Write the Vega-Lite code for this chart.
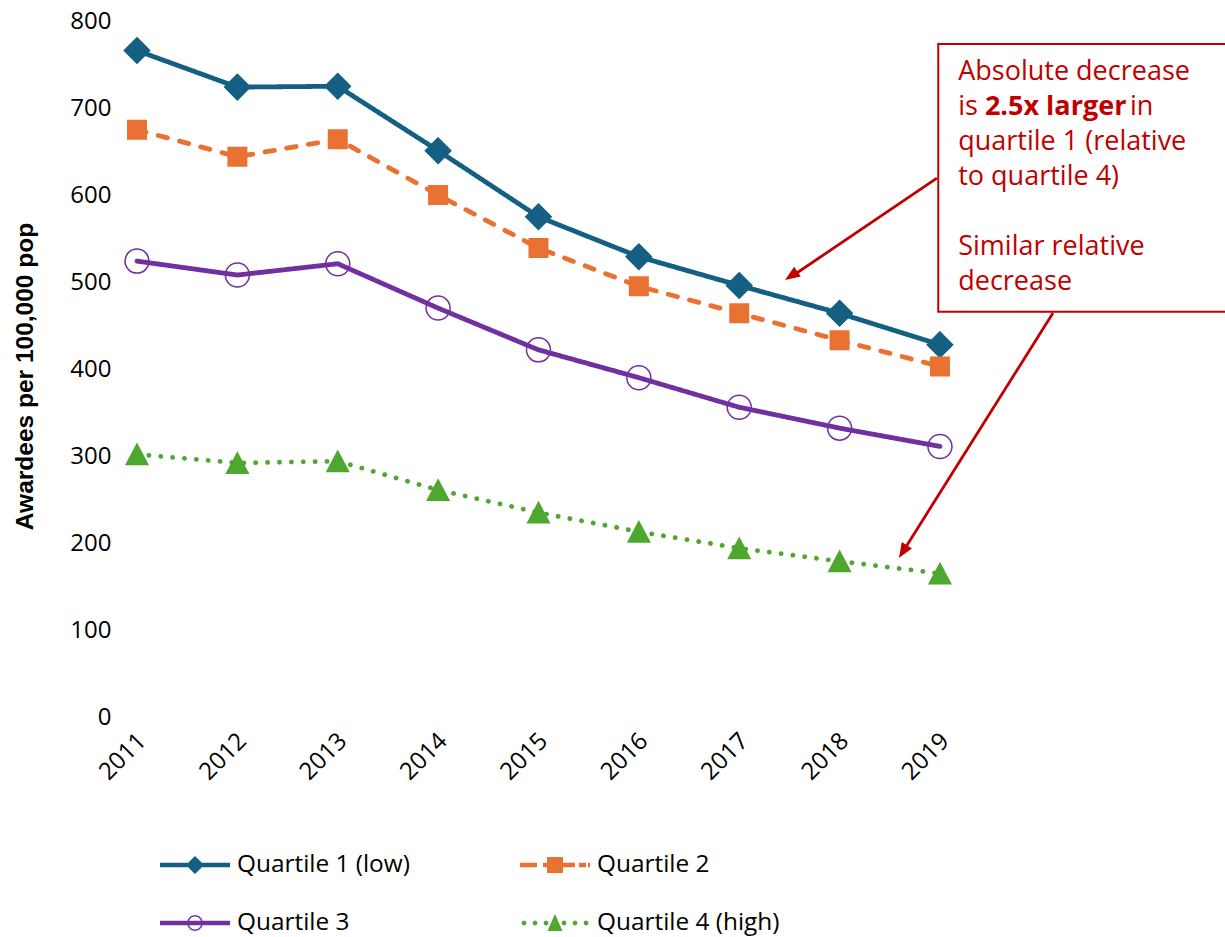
{
  "$schema": "https://vega.github.io/schema/vega-lite/v6.json",
  "width": 1088,
  "height": 696,
  "autosize": {"type": "none"},
  "padding": {"left": 137, "top": 21, "right": 0, "bottom": 220},
  "background": "white",
  "config": {"view": {"stroke": null}, "font": "Open Sans"},
  "datasets": {
    "series": [
      {"year": 2011, "series": "Quartile 1 (low)", "value": 766},
      {"year": 2012, "series": "Quartile 1 (low)", "value": 724},
      {"year": 2013, "series": "Quartile 1 (low)", "value": 725},
      {"year": 2014, "series": "Quartile 1 (low)", "value": 651},
      {"year": 2015, "series": "Quartile 1 (low)", "value": 575},
      {"year": 2016, "series": "Quartile 1 (low)", "value": 529},
      {"year": 2017, "series": "Quartile 1 (low)", "value": 496},
      {"year": 2018, "series": "Quartile 1 (low)", "value": 464},
      {"year": 2019, "series": "Quartile 1 (low)", "value": 428},
      {"year": 2011, "series": "Quartile 2", "value": 675},
      {"year": 2012, "series": "Quartile 2", "value": 644},
      {"year": 2013, "series": "Quartile 2", "value": 664},
      {"year": 2014, "series": "Quartile 2", "value": 600},
      {"year": 2015, "series": "Quartile 2", "value": 539},
      {"year": 2016, "series": "Quartile 2", "value": 495},
      {"year": 2017, "series": "Quartile 2", "value": 464},
      {"year": 2018, "series": "Quartile 2", "value": 433},
      {"year": 2019, "series": "Quartile 2", "value": 403},
      {"year": 2011, "series": "Quartile 3", "value": 524},
      {"year": 2012, "series": "Quartile 3", "value": 508},
      {"year": 2013, "series": "Quartile 3", "value": 521},
      {"year": 2014, "series": "Quartile 3", "value": 470},
      {"year": 2015, "series": "Quartile 3", "value": 422},
      {"year": 2016, "series": "Quartile 3", "value": 390},
      {"year": 2017, "series": "Quartile 3", "value": 356},
      {"year": 2018, "series": "Quartile 3", "value": 332},
      {"year": 2019, "series": "Quartile 3", "value": 311},
      {"year": 2011, "series": "Quartile 4 (high)", "value": 302},
      {"year": 2012, "series": "Quartile 4 (high)", "value": 292},
      {"year": 2013, "series": "Quartile 4 (high)", "value": 294},
      {"year": 2014, "series": "Quartile 4 (high)", "value": 261},
      {"year": 2015, "series": "Quartile 4 (high)", "value": 235},
      {"year": 2016, "series": "Quartile 4 (high)", "value": 213},
      {"year": 2017, "series": "Quartile 4 (high)", "value": 194},
      {"year": 2018, "series": "Quartile 4 (high)", "value": 179},
      {"year": 2019, "series": "Quartile 4 (high)", "value": 165}
    ],
    "grid": [
      {"value": 0}, {"value": 100}, {"value": 200}, {"value": 300}, {"value": 400},
      {"value": 500}, {"value": 600}, {"value": 700}, {"value": 800}
    ],
    "box": [
      {"year": 2018.983, "year2": 2022.2, "value": 773.6, "value2": 465.9}
    ],
    "notes": [
      {"year": 2019.182, "value": 732.2, "text": "Absolute decrease"},
      {"year": 2019.182, "value": 692.5, "text": "is"},
      {"year": 2020.893, "value": 692.5, "text": "in"},
      {"year": 2019.182, "value": 651.7, "text": "quartile 1 (relative"},
      {"year": 2019.182, "value": 611.5, "text": "to quartile 4)"},
      {"year": 2019.182, "value": 531.0, "text": "Similar relative"},
      {"year": 2019.182, "value": 490.8, "text": "decrease"}
    ],
    "bold": [
      {"year": 2019.448, "value": 692.5, "text": "2.5x larger"}
    ],
    "arrows": [
      {"year": 2018.97, "value": 619.5, "year2": 2017.522, "value2": 506.3},
      {"year": 2020.126, "value": 464.4, "year2": 2018.634, "value2": 190.6}
    ],
    "head1": [{"year": 2017.456, "value": 502.3}],
    "head2": [{"year": 2018.591, "value": 182.8}]
  },
  "encoding": {
    "x": {
      "field": "year",
      "type": "quantitative",
      "scale": {"domain": [2011, 2021.84], "nice": false, "zero": false},
      "axis": {
        "values": [2011, 2012, 2013, 2014, 2015, 2016, 2017, 2018, 2019],
        "format": "d",
        "labelAngle": -45,
        "labelAlign": "right",
        "labelBaseline": "middle",
        "labelFont": "Open Sans",
        "labelFontSize": 24,
        "labelColor": "black",
        "labelPadding": 20,
        "labelOffset": 5,
        "labelFlush": false,
        "labelOverlap": false,
        "domain": false,
        "ticks": false,
        "grid": false,
        "title": null
      }
    },
    "y": {
      "field": "value",
      "type": "quantitative",
      "scale": {"domain": [0, 800], "nice": false},
      "axis": {
        "values": [0, 100, 200, 300, 400, 500, 600, 700, 800],
        "labelFont": "Open Sans",
        "labelFontSize": 24,
        "labelColor": "black",
        "labelPadding": 26,
        "domain": false,
        "ticks": false,
        "grid": false,
        "title": "Awardees per 100,000 pop",
        "titleFont": "Liberation Sans",
        "titleFontSize": 24.5,
        "titleFontWeight": "bold",
        "titleColor": "black",
        "titleAngle": -90,
        "titleAlign": "center",
        "titleBaseline": "alphabetic",
        "titleX": -105,
        "titleY": 355
      }
    }
  },
  "layer": [
    {
      "data": {"name": "grid"},
      "mark": {"type": "rule", "color": "#D9D9D9", "strokeWidth": 1.3},
      "encoding": {
        "x": {"datum": 2011, "type": "quantitative"},
        "x2": {"datum": 2019}
      }
    },
    {
      "data": {"name": "series"},
      "mark": {"type": "line", "strokeWidth": 4.8, "strokeCap": "round", "strokeJoin": "round"},
      "encoding": {
        "color": {
          "field": "series",
          "type": "nominal",
          "scale": {
            "domain": ["Quartile 1 (low)", "Quartile 2", "Quartile 3", "Quartile 4 (high)"],
            "range": ["#156082", "#E97132", "#7030A0", "#4EA72E"]
          },
          "legend": {
            "orient": "none",
            "direction": "horizontal",
            "legendX": 23,
            "legendY": 832,
            "columns": 2,
            "title": null,
            "padding": 0,
            "symbolSize": 4900,
            "symbolStrokeWidth": 0,
            "clipHeight": 24,
            "rowPadding": 33,
            "columnPadding": 110,
            "labelOffset": 7,
            "labelFont": "Open Sans",
            "labelFontSize": 24.4,
            "labelColor": "black",
            "labelLimit": 400,
            "encode": {
              "symbols": {
                "update": {
                  "shape": {"signal": "datum.value === 'Quartile 1 (low)' ? 'M-1,-0.064L1,-0.064L1,0.064L-1,0.064Z M0,-0.26L0.26,0L0,0.26L-0.26,0Z' : datum.value === 'Quartile 2' ? 'M-1,-0.064L-0.514,-0.064L-0.514,0.064L-1,0.064Z M-0.343,-0.064L0.571,-0.064L0.571,0.064L-0.343,0.064Z M0.686,-0.064L0.886,-0.064L0.886,0.064L0.686,0.064Z M0.943,-0.064L1,-0.064L1,0.064L0.943,0.064Z M-0.229,-0.229L0.229,-0.229L0.229,0.229L-0.229,0.229Z' : datum.value === 'Quartile 3' ? 'M-1,-0.064L1,-0.064L1,0.064L-1,0.064Z M0.229,0L0.198,0.115L0.115,0.198L0,0.229L-0.115,0.198L-0.198,0.115L-0.229,0L-0.198,-0.115L-0.115,-0.198L0,-0.229L0.115,-0.198L0.198,-0.115Z M0.186,0L0.161,-0.093L0.093,-0.161L0,-0.186L-0.093,-0.161L-0.161,-0.093L-0.186,0L-0.161,0.093L-0.093,0.161L0,0.186L0.093,0.161L0.161,0.093Z' : 'M-0.815,0L-0.836,0.05L-0.886,0.071L-0.936,0.05L-0.957,0L-0.936,-0.05L-0.886,-0.071L-0.836,-0.05Z M-0.5,0L-0.521,0.05L-0.571,0.071L-0.621,0.05L-0.642,0L-0.621,-0.05L-0.571,-0.071L-0.521,-0.05Z M-0.186,0L-0.207,0.05L-0.257,0.071L-0.307,0.05L-0.328,0L-0.307,-0.05L-0.257,-0.071L-0.207,-0.05Z M0.328,0L0.307,0.05L0.257,0.071L0.207,0.05L0.186,0L0.207,-0.05L0.257,-0.071L0.307,-0.05Z M0.642,0L0.621,0.05L0.571,0.071L0.521,0.05L0.5,0L0.521,-0.05L0.571,-0.071L0.621,-0.05Z M0.957,0L0.936,0.05L0.886,0.071L0.836,0.05L0.815,0L0.836,-0.05L0.886,-0.071L0.936,-0.05Z M0,-0.257L0.214,0.229L-0.214,0.229Z'"},
                  "fill": {"signal": "datum.value === 'Quartile 1 (low)' ? '#156082' : datum.value === 'Quartile 2' ? '#E97132' : datum.value === 'Quartile 3' ? '#7030A0' : '#4EA72E'"},
                  "fillOpacity": {"value": 1},
                  "strokeWidth": {"value": 0},
                  "opacity": {"value": 1}
                }
              }
            }
          }
        },
        "strokeDash": {
          "field": "series",
          "type": "nominal",
          "scale": {
            "domain": ["Quartile 1 (low)", "Quartile 2", "Quartile 3", "Quartile 4 (high)"],
            "range": [[1, 0], [9.5, 12.5], [1, 0], [0.1, 11.8]]
          },
          "legend": null
        }
      }
    },
    {
      "data": {"name": "series"},
      "transform": [{"filter": "datum.series === 'Quartile 1 (low)'"}],
      "mark": {"type": "point", "shape": "M0,-1.06L1.06,0L0,1.06L-1.06,0Z", "size": 576, "filled": true, "fill": "#156082", "stroke": "#156082", "strokeWidth": 1.5, "opacity": 1}
    },
    {
      "data": {"name": "series"},
      "transform": [{"filter": "datum.series === 'Quartile 2'"}],
      "mark": {"type": "point", "shape": "M-0.77,-0.77L0.77,-0.77L0.77,0.77L-0.77,0.77Z", "size": 576, "filled": true, "fill": "#E97132", "stroke": "#E97132", "strokeWidth": 1.5, "opacity": 1}
    },
    {
      "data": {"name": "series"},
      "transform": [{"filter": "datum.series === 'Quartile 3'"}],
      "mark": {"type": "point", "shape": "circle", "size": 576, "filled": false, "fill": "transparent", "stroke": "#7030A0", "strokeWidth": 1.5, "opacity": 1}
    },
    {
      "data": {"name": "series"},
      "transform": [{"filter": "datum.series === 'Quartile 4 (high)'"}],
      "mark": {"type": "point", "shape": "M0,-0.85L0.9,0.85L-0.9,0.85Z", "size": 576, "filled": true, "fill": "#4EA72E", "stroke": "#4EA72E", "strokeWidth": 1.5, "opacity": 1}
    },
    {
      "data": {"name": "box"},
      "mark": {"type": "rect", "fill": "white", "stroke": "#C00000", "strokeWidth": 2},
      "encoding": {
        "x2": {"field": "year2"},
        "y2": {"field": "value2"}
      }
    },
    {
      "data": {"name": "notes"},
      "mark": {"type": "text", "align": "left", "baseline": "alphabetic", "font": "Open Sans", "fontSize": 27, "color": "#C00000"},
      "encoding": {"text": {"field": "text"}}
    },
    {
      "data": {"name": "bold"},
      "mark": {"type": "text", "align": "left", "baseline": "alphabetic", "font": "Open Sans", "fontSize": 27, "fontWeight": "bold", "color": "#C00000"},
      "encoding": {"text": {"field": "text"}}
    },
    {
      "data": {"name": "arrows"},
      "mark": {"type": "rule", "color": "#C00000", "strokeWidth": 2.8},
      "encoding": {
        "x2": {"field": "year2"},
        "y2": {"field": "value2"}
      }
    },
    {
      "data": {"name": "head1"},
      "mark": {"type": "point", "shape": "M0,0L-2,-0.8L-2,0.8Z", "size": 225, "angle": 146.1, "filled": true, "color": "#C00000", "opacity": 1, "strokeWidth": 0}
    },
    {
      "data": {"name": "head2"},
      "mark": {"type": "point", "shape": "M0,0L-2,-0.8L-2,0.8Z", "size": 225, "angle": 122.2, "filled": true, "color": "#C00000", "opacity": 1, "strokeWidth": 0}
    }
  ]
}
